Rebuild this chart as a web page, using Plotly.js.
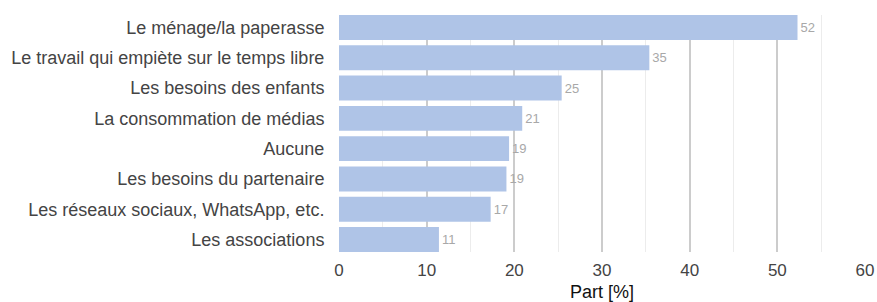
<!DOCTYPE html>
<html>
<head>
<meta charset="utf-8">
<script src="https://cdn.plot.ly/plotly-3.0.1.min.js"></script>
<style>html,body{margin:0;padding:0;background:#fff;}#chart{width:877px;height:302px;}</style>
</head>
<body>
<div id="chart"></div>
<script>
const categories = [
  "Le ménage/la paperasse",
  "Le travail qui empiète sur le temps libre",
  "Les besoins des enfants",
  "La consommation de médias",
  "Aucune",
  "Les besoins du partenaire",
  "Les réseaux sociaux, WhatsApp, etc.",
  "Les associations"
];
const values = [52.3, 35.4, 25.4, 20.9, 19.4, 19.1, 17.3, 11.4];
const xTicks = [0, 10, 20, 30, 40, 50, 60];

const font = "'Liberation Sans', Arial, Helvetica, sans-serif";

Plotly.newPlot("chart", [{
  type: "bar",
  orientation: "h",
  y: categories,
  x: values,
  marker: {color: "#afc4e7"},
  texttemplate: "%{x:.0f}",
  textposition: "outside",
  cliponaxis: false,
  textfont: {family: font, size: 13, color: "#a8a8a8"},
  hoverinfo: "none"
}], {
  width: 877, height: 302,
  margin: {l: 339, r: 12, t: 15, b: 50},
  paper_bgcolor: "#fff", plot_bgcolor: "#fff",
  bargap: 0.177,
  showlegend: false,
  font: {family: font},
  xaxis: {
    range: [0, 60],
    tickvals: xTicks,
    ticktext: xTicks.map(String),
    showgrid: true, gridcolor: "#cccccc", gridwidth: 2,
    minor: {dtick: 5, showgrid: true, gridcolor: "#ececec", gridwidth: 1},
    zeroline: false, showline: false,
    ticks: "outside", ticklen: 3, tickcolor: "rgba(0,0,0,0)",
    tickfont: {family: font, size: 17, color: "#444"},
    title: {text: "Part [%]", font: {family: font, size: 18, color: "#111"}, standoff: 5},
    fixedrange: true
  },
  yaxis: {
    autorange: false,
    range: [7.41, -0.41],
    type: "category",
    showgrid: false, zeroline: false, showline: false,
    ticks: "outside", ticklen: 10, tickcolor: "rgba(0,0,0,0)",
    tickfont: {family: font, size: 18, color: "#444"},
    fixedrange: true
  }
}, {staticPlot: true, displayModeBar: false});
</script>
</body>
</html>
